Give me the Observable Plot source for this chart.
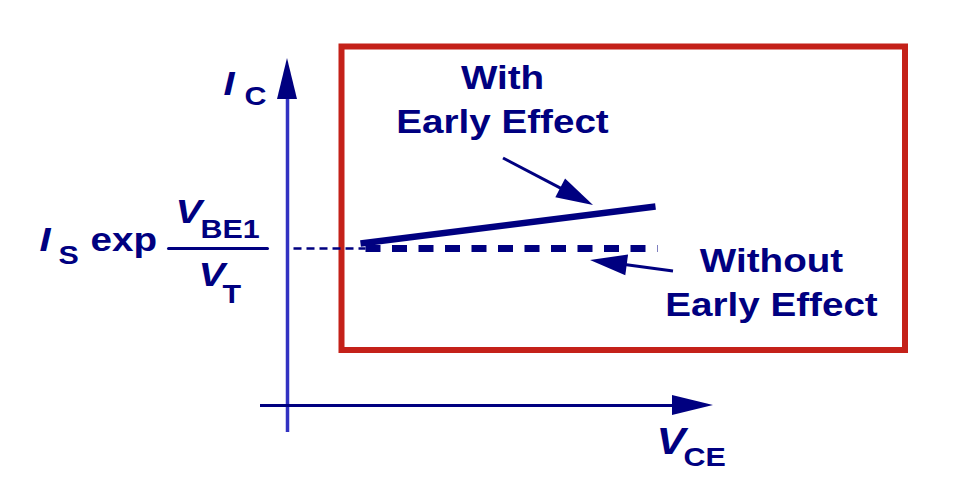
<!DOCTYPE html>
<html>
<head>
<meta charset="utf-8">
<script src="https://cdn.jsdelivr.net/npm/d3@7"></script>
<script src="https://cdn.jsdelivr.net/npm/@observablehq/plot@0.6"></script>
<style>
  html, body { margin: 0; padding: 0; background: #ffffff; }
  #chart { width: 974px; height: 492px; }
</style>
</head>
<body>
<div id="chart"></div>
<script>
// ---- Data (V_CE and I_C in arbitrary schematic units) ----
const vceAxis = [-2.7, 42.6];          // horizontal axis extent (tail, arrow tip)
const icAxis = [-2.7, 34.7];           // vertical axis extent (tail, arrow tip)
const isLevel = 15.7;                  // I_S exp(V_BE1/V_T)
const refDashVce = [0.6, 7.8];         // thin dashed guide from the I_C axis
const withoutVce = [7.8, 37.0];        // without Early effect (flat)
const withoutIc = [isLevel, isLevel];
const withVce = [7.3, 36.8];           // with Early effect (sloped)
const withIc = [16.2, 19.9];
const highlightVce = [5.45, 61.8];     // highlighted region
const highlightIc = [5.5, 35.85];
const fractionBarVce = [-11.9, -2.0];

const annotationText = ["With\nEarly Effect", "Without\nEarly Effect"];
const annotationVce = [21.5, 48.4];
const annotationIc = [27.3, 9.0];
const pointerFromVce = [21.6, 38.6];
const pointerFromIc = [24.7, 13.4];
const pointerToVce = [30.6, 30.3];
const pointerToIc = [20.0, 14.5];

// axis label pieces: italic symbols and upright subscripts
const symbolText = ["I", "I", "V", "V", "V"];
const symbolVce = [-6.4, -24.8, -11.2, -8.9, 36.9];
const symbolIc = [31.1, 15.5, 18.3, 12.0, -4.8];
const symbolSize = [34, 34, 34, 34, 37];
const subText = ["C", "S", "BE1", "T", "CE"];
const subVce = [-4.3, -22.9, -8.7, -6.5, 39.6];
const subIc = [30.1, 14.2, 16.8, 10.3, -6.0];
const wordText = ["exp"];
const wordVce = [-19.7];
const wordIc = [15.5];

// ---- build tables ----
const zip = (xs, ys, extra = {}) => xs.map((x, i) => ({x, y: ys[i], ...Object.fromEntries(Object.entries(extra).map(([k, v]) => [k, v[i]]))}));
const navy = "#000080";
const axisBlue = "#3232c2";
const red = "#c42119";
const font = "Liberation Sans, Arial, Helvetica, sans-serif";

// custom mark: filled-head arrows positioned through Plot's scales
function filledArrows(rows, {stroke = navy, strokeWidth = 3, headLength = 38, headWidth = 11, shaft = true} = {}) {
  return (index, scales) => {
    const g = d3.create("svg:g");
    for (const r of rows) {
      const x1 = scales.x(r.x1), y1 = scales.y(r.y1), x2 = scales.x(r.x2), y2 = scales.y(r.y2);
      const dx = x2 - x1, dy = y2 - y1, len = Math.hypot(dx, dy);
      const ux = dx / len, uy = dy / len;
      const bx = x2 - ux * headLength, by = y2 - uy * headLength;
      if (shaft) {
        g.append("line")
          .attr("x1", x1).attr("y1", y1)
          .attr("x2", bx + ux * 2).attr("y2", by + uy * 2)
          .attr("stroke", stroke).attr("stroke-width", strokeWidth);
      }
      g.append("path")
        .attr("d", `M${x2},${y2}L${bx - uy * headWidth},${by + ux * headWidth}L${bx + uy * headWidth},${by - ux * headWidth}Z`)
        .attr("fill", stroke);
    }
    return g.node();
  };
}

const pointers = pointerFromVce.map((v, i) => ({x1: v, y1: pointerFromIc[i], x2: pointerToVce[i], y2: pointerToIc[i]}));
const axisHeads = [
  {x1: 0, y1: icAxis[0], x2: 0, y2: icAxis[1]},
  {x1: vceAxis[0], y1: 0, x2: vceAxis[1], y2: 0}
];

const plot = Plot.plot({
  width: 974,
  height: 492,
  marginTop: 0, marginRight: 0, marginBottom: 0, marginLeft: 0,
  x: {domain: [-28.7, 68.7], range: [0, 974], axis: null},
  y: {domain: [-8.7, 40.5], range: [492, 0], axis: null},
  style: {fontFamily: font, background: "#ffffff"},
  marks: [
    // highlight box
    Plot.rect([{x1: highlightVce[0], x2: highlightVce[1], y1: highlightIc[0], y2: highlightIc[1]}],
      {x1: "x1", x2: "x2", y1: "y1", y2: "y2", fill: "none", stroke: red, strokeWidth: 6}),
    // axes
    Plot.ruleX([0], {y1: icAxis[0], y2: icAxis[1] - 3.6, stroke: axisBlue, strokeWidth: 3.5}),
    Plot.ruleY([0], {x1: vceAxis[0], x2: vceAxis[1] - 3.6, stroke: navy, strokeWidth: 3}),
    filledArrows(axisHeads, {headLength: 41, headWidth: 10, shaft: false}),
    // thin dashed guide
    Plot.line(zip(refDashVce, [isLevel, isLevel]), {x: "x", y: "y", stroke: navy, strokeWidth: 2.5, strokeDasharray: "8,5", strokeLinecap: "butt"}),
    // fraction bar
    Plot.line(zip(fractionBarVce, [isLevel, isLevel]), {x: "x", y: "y", stroke: navy, strokeWidth: 3}),
    // without Early effect (dashed)
    Plot.line(zip(withoutVce, withoutIc), {x: "x", y: "y", stroke: navy, strokeWidth: 7, strokeDasharray: "15,11.5", strokeLinecap: "butt"}),
    // with Early effect
    Plot.line(zip(withVce, withIc), {x: "x", y: "y", stroke: navy, strokeWidth: 6.5, strokeLinecap: "butt"}),
    // pointers
    filledArrows(pointers, {strokeWidth: 3, headLength: 37, headWidth: 10.5}),
    // annotation text
    Plot.text(zip(annotationVce, annotationIc, {t: annotationText}), {x: "x", y: "y", text: "t", fill: navy, fontSize: 33, fontWeight: "bold", lineAnchor: "bottom", lineHeight: 1.33, textAnchor: "middle"}),
    // symbols
    Plot.text(zip(symbolVce, symbolIc, {t: symbolText, s: symbolSize}), {x: "x", y: "y", text: "t", fontSize: "s", fill: navy, fontWeight: "bold", fontStyle: "italic", lineAnchor: "bottom", textAnchor: "start"}),
    Plot.text(zip(subVce, subIc, {t: subText}), {x: "x", y: "y", text: "t", fontSize: 26, fill: navy, fontWeight: "bold", lineAnchor: "bottom", textAnchor: "start"}),
    Plot.text(zip(wordVce, wordIc, {t: wordText}), {x: "x", y: "y", text: "t", fontSize: 33, fill: navy, fontWeight: "bold", lineAnchor: "bottom", textAnchor: "start"})
  ]
});

// the source lettering is horizontally wide: stretch each text about its anchor
plot.querySelectorAll("text").forEach((t) => {
  const tr = t.getAttribute("transform");
  if (tr && tr.includes("translate")) t.setAttribute("transform", tr + " scale(1.17,1)");
});

document.getElementById("chart").appendChild(plot);
</script>
</body>
</html>
